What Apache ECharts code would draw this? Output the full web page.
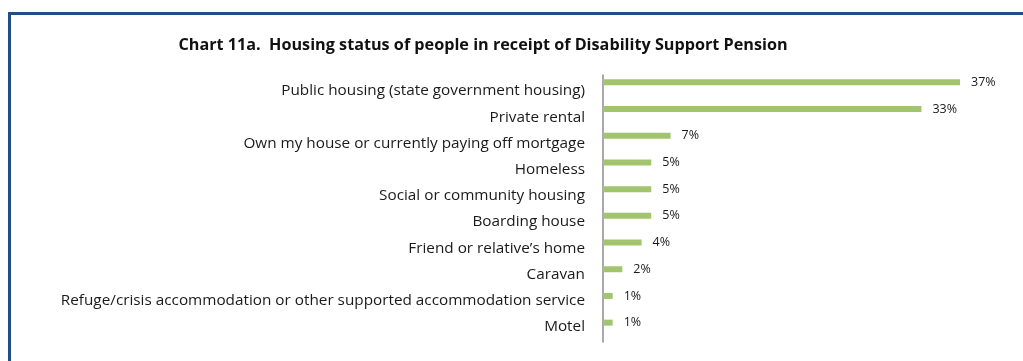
<!DOCTYPE html>
<html>
<head>
<meta charset="utf-8">
<script src="https://cdn.jsdelivr.net/npm/echarts@6/dist/echarts.min.js"></script>
<style>
  html, body { margin: 0; padding: 0; background: #ffffff; }
  #wrap { position: relative; width: 1023px; height: 361px; overflow: hidden; }
  #chart { position: absolute; left: 0; top: 0; width: 1023px; height: 361px; }
  #frame {
    position: absolute; left: 8px; top: 12px; width: 1030px; height: 360px;
    border-top: 3px solid #1f4f86; border-left: 3px solid #1f4f86;
    box-sizing: border-box; pointer-events: none;
  }
</style>
</head>
<body>
<div id="wrap">
  <div id="chart"></div>
  <div id="frame"></div>
</div>
<script>
// Housing status categories, top to bottom
const categories = [
  'Public housing (state government housing)',
  'Private rental',
  'Own my house or currently paying off mortgage',
  'Homeless',
  'Social or community housing',
  'Boarding house',
  'Friend or relative\u2019s home',
  'Caravan',
  'Refuge/crisis accommodation or other supported accommodation service',
  'Motel'
];
// Share of pension recipients, per cent
const shares = [37, 33, 7, 5, 5, 5, 4, 2, 1, 1];

const font = '"Open Sans", "Noto Sans", sans-serif';
const chart = echarts.init(document.getElementById('chart'));

chart.setOption({
  animation: false,
  title: {
    text: 'Chart 11a.  Housing status of people in receipt of Disability Support Pension',
    left: 478, top: 32, textAlign: 'center',
    textStyle: { fontFamily: font, fontSize: 16.2, fontWeight: 'bold', color: '#111' }
  },
  grid: [
    // bars
    { left: 603, top: 69, width: 386, height: 267 },
    // category labels
    { left: 603, top: 78, width: 386, height: 262 },
    // vertical axis line
    { left: 603, top: 75, width: 386, height: 267 }
  ],
  xAxis: [
    { gridIndex: 0, type: 'value', min: 0, max: 40, show: false },
    { gridIndex: 1, type: 'value', min: 0, max: 40, show: false },
    { gridIndex: 2, type: 'value', min: 0, max: 40, show: false }
  ],
  yAxis: [
    { gridIndex: 0, type: 'category', data: categories, inverse: true, show: false },
    {
      gridIndex: 1, type: 'category', data: categories, inverse: true,
      axisLine: { show: false },
      axisTick: { show: false },
      axisLabel: { margin: 18, fontFamily: font, fontSize: 15.3, color: '#1a1a1a' }
    },
    {
      gridIndex: 2, type: 'category', data: categories, inverse: true,
      axisLine: { show: true, lineStyle: { color: '#8c8c8c', width: 1.5 } },
      axisTick: { show: false },
      axisLabel: { show: false }
    }
  ],
  series: [{
    type: 'bar',
    xAxisIndex: 0, yAxisIndex: 0,
    data: shares,
    barWidth: 6,
    itemStyle: { color: '#a3c46e' },
    label: {
      show: true, position: 'right', distance: 11,
      formatter: p => p.value + '%',
      fontFamily: font, fontSize: 12.5, color: '#1a1a1a',
      padding: [3, 0, 0, 0]
    }
  }]
});
</script>
</body>
</html>
